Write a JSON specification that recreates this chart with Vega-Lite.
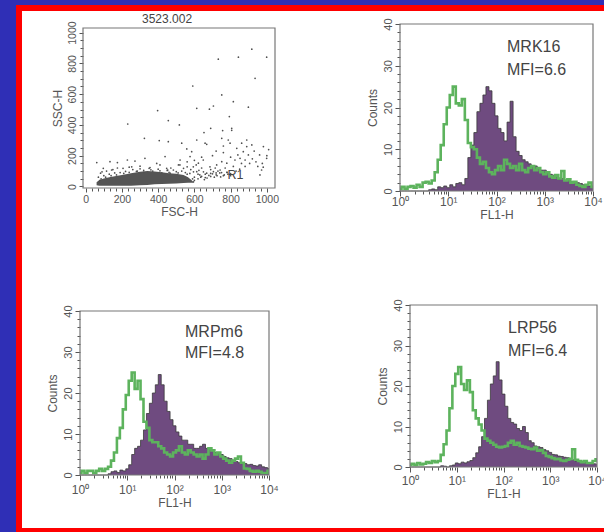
{
  "$schema": "https://vega.github.io/schema/vega-lite/v6.json",
  "width": 600,
  "height": 523,
  "autosize": "none",
  "padding": {"left": 19, "top": 8, "right": 0, "bottom": 1},
  "background": "#2F2FB6",
  "config": {
    "font": "Liberation Sans",
    "view": {"fill": "white", "stroke": "#FF0000", "strokeWidth": 6},
    "axis": {
      "domain": false, "grid": false, "tickColor": "#555", "tickWidth": 1,
      "labelColor": "#555", "labelFont": "Liberation Sans", "labelFontSize": 10.5,
      "titleColor": "#555", "titleFont": "Liberation Sans", "titleFontSize": 12,
      "titleFontWeight": "normal", "labelOverlap": false, "labelFlush": false, "labelBound": false
    }
  },
  "datasets": {
    "blob": [
      {"x": 60, "top": 28, "bottom": 8}, {"x": 75, "top": 42, "bottom": 5}, {"x": 100, "top": 52, "bottom": 5},
      {"x": 130, "top": 60, "bottom": 5}, {"x": 160, "top": 66, "bottom": 5}, {"x": 200, "top": 74, "bottom": 5},
      {"x": 250, "top": 86, "bottom": 5}, {"x": 300, "top": 95, "bottom": 8}, {"x": 340, "top": 100, "bottom": 10},
      {"x": 380, "top": 98, "bottom": 14}, {"x": 420, "top": 92, "bottom": 16}, {"x": 460, "top": 86, "bottom": 18},
      {"x": 500, "top": 82, "bottom": 20}, {"x": 540, "top": 74, "bottom": 22}, {"x": 565, "top": 60, "bottom": 24},
      {"x": 585, "top": 40, "bottom": 24}, {"x": 595, "top": 28, "bottom": 24}
    ],
    "scatter": [
      {"x": 917, "y": 892}, {"x": 999, "y": 840}, {"x": 843, "y": 840}, {"x": 732, "y": 827}, {"x": 591, "y": 653},
      {"x": 935, "y": 703}, {"x": 397, "y": 493}, {"x": 232, "y": 406}, {"x": 324, "y": 313}, {"x": 517, "y": 400},
      {"x": 456, "y": 428}, {"x": 613, "y": 508}, {"x": 683, "y": 502}, {"x": 705, "y": 523}, {"x": 751, "y": 595},
      {"x": 815, "y": 551}, {"x": 898, "y": 515}, {"x": 793, "y": 454}, {"x": 806, "y": 378}, {"x": 806, "y": 365},
      {"x": 756, "y": 363}, {"x": 690, "y": 378}, {"x": 653, "y": 350}, {"x": 613, "y": 302}, {"x": 558, "y": 244},
      {"x": 530, "y": 281}, {"x": 406, "y": 298}, {"x": 889, "y": 302}, {"x": 981, "y": 259},
      {"x": 456, "y": 291}, {"x": 659, "y": 281}, {"x": 668, "y": 274}, {"x": 751, "y": 313}, {"x": 787, "y": 302},
      {"x": 760, "y": 263}, {"x": 797, "y": 281}, {"x": 834, "y": 248}, {"x": 861, "y": 281}, {"x": 889, "y": 259},
      {"x": 917, "y": 270}, {"x": 870, "y": 226}, {"x": 898, "y": 205}, {"x": 852, "y": 183}, {"x": 880, "y": 172},
      {"x": 824, "y": 172}, {"x": 779, "y": 151}, {"x": 751, "y": 161}, {"x": 723, "y": 140}, {"x": 686, "y": 128},
      {"x": 649, "y": 172}, {"x": 622, "y": 151}, {"x": 594, "y": 128}, {"x": 576, "y": 194}, {"x": 585, "y": 226},
      {"x": 521, "y": 172}, {"x": 512, "y": 140}, {"x": 484, "y": 107}, {"x": 466, "y": 86}, {"x": 447, "y": 118},
      {"x": 613, "y": 96}, {"x": 668, "y": 86}, {"x": 705, "y": 96}, {"x": 742, "y": 107}, {"x": 962, "y": 75},
      {"x": 971, "y": 107}, {"x": 999, "y": 183}, {"x": 1010, "y": 240},
      {"x": 61, "y": 155}, {"x": 134, "y": 161}, {"x": 175, "y": 155}, {"x": 230, "y": 172}, {"x": 272, "y": 165},
      {"x": 327, "y": 183}, {"x": 392, "y": 150}, {"x": 438, "y": 194}, {"x": 143, "y": 107}, {"x": 97, "y": 118},
      {"x": 82, "y": 86}, {"x": 206, "y": 118}, {"x": 254, "y": 128}, {"x": 300, "y": 132}, {"x": 355, "y": 123},
      {"x": 410, "y": 140}, {"x": 453, "y": 107},
      {"x": 100, "y": 70}, {"x": 130, "y": 80}, {"x": 160, "y": 88}, {"x": 190, "y": 90}, {"x": 220, "y": 98},
      {"x": 260, "y": 110}, {"x": 300, "y": 115}, {"x": 350, "y": 118}, {"x": 400, "y": 112}, {"x": 450, "y": 104},
      {"x": 500, "y": 96}, {"x": 550, "y": 90}, {"x": 600, "y": 60}, {"x": 620, "y": 80}, {"x": 640, "y": 66},
      {"x": 660, "y": 58}, {"x": 680, "y": 72}, {"x": 700, "y": 82}, {"x": 720, "y": 76}, {"x": 740, "y": 88},
      {"x": 760, "y": 70}, {"x": 780, "y": 92}, {"x": 800, "y": 84}, {"x": 850, "y": 112}, {"x": 880, "y": 130},
      {"x": 905, "y": 150}, {"x": 940, "y": 160}, {"x": 960, "y": 205}, {"x": 980, "y": 125}, {"x": 640, "y": 120},
      {"x": 610, "y": 140}, {"x": 580, "y": 110}, {"x": 560, "y": 128}, {"x": 540, "y": 118}, {"x": 530, "y": 100},
      {"x": 575, "y": 85}, {"x": 595, "y": 95}, {"x": 625, "y": 105}, {"x": 650, "y": 95}, {"x": 690, "y": 110},
      {"x": 715, "y": 120}, {"x": 730, "y": 100}, {"x": 770, "y": 120}, {"x": 815, "y": 130}, {"x": 830, "y": 100},
      {"x": 860, "y": 150}, {"x": 920, "y": 180}, {"x": 950, "y": 130}, {"x": 70, "y": 60}, {"x": 80, "y": 40},
      {"x": 90, "y": 95}, {"x": 115, "y": 100}, {"x": 150, "y": 110}, {"x": 175, "y": 120}, {"x": 240, "y": 125},
      {"x": 285, "y": 100}, {"x": 320, "y": 92}, {"x": 370, "y": 100}, {"x": 420, "y": 88}, {"x": 470, "y": 120},
      {"x": 520, "y": 140}, {"x": 560, "y": 160}, {"x": 600, "y": 170}, {"x": 640, "y": 190}, {"x": 700, "y": 200},
      {"x": 720, "y": 230}, {"x": 760, "y": 220}, {"x": 800, "y": 190}, {"x": 840, "y": 205}, {"x": 930, "y": 230},
      {"x": 975, "y": 150}, {"x": 1000, "y": 200},
      {"x": 600, "y": 40}, {"x": 620, "y": 50}, {"x": 635, "y": 60}, {"x": 655, "y": 45}, {"x": 670, "y": 55},
      {"x": 690, "y": 65}, {"x": 710, "y": 60}, {"x": 725, "y": 70}, {"x": 745, "y": 62}, {"x": 765, "y": 75},
      {"x": 785, "y": 80}, {"x": 800, "y": 70}, {"x": 630, "y": 75}, {"x": 660, "y": 80}, {"x": 690, "y": 85},
      {"x": 720, "y": 88}, {"x": 750, "y": 90}, {"x": 780, "y": 92},
      {"x": 75, "y": 30}, {"x": 85, "y": 50}, {"x": 110, "y": 60}, {"x": 140, "y": 70}, {"x": 170, "y": 75},
      {"x": 210, "y": 85}, {"x": 240, "y": 92}, {"x": 280, "y": 98}, {"x": 320, "y": 105}, {"x": 360, "y": 108},
      {"x": 410, "y": 102}, {"x": 460, "y": 92}, {"x": 510, "y": 88}, {"x": 560, "y": 80}, {"x": 590, "y": 50},
      {"x": 595, "y": 30}
    ],
    "hist": [
      {"x": 1, "g1": 0.5, "p1": 0, "g2": 0.5, "p2": 0, "g3": 0.5, "p3": 0},
      {"x": 1.155, "g1": 1, "p1": 0, "g2": 1, "p2": 0, "g3": 0.8, "p3": 0},
      {"x": 1.334, "g1": 0.5, "p1": 0, "g2": 0.5, "p2": 0, "g3": 0.5, "p3": 0},
      {"x": 1.54, "g1": 1, "p1": 0, "g2": 1, "p2": 0, "g3": 1, "p3": 0},
      {"x": 1.778, "g1": 1.2, "p1": 0, "g2": 1, "p2": 0, "g3": 0.6, "p3": 0},
      {"x": 2.054, "g1": 0.8, "p1": 0, "g2": 0.5, "p2": 0, "g3": 0.8, "p3": 0},
      {"x": 2.371, "g1": 1.5, "p1": 0, "g2": 1, "p2": 0, "g3": 1.2, "p3": 0},
      {"x": 2.738, "g1": 1, "p1": 0, "g2": 1.5, "p2": 0, "g3": 1, "p3": 0},
      {"x": 3.162, "g1": 2, "p1": 0, "g2": 1, "p2": 0, "g3": 1.5, "p3": 0},
      {"x": 3.652, "g1": 2.2, "p1": 0, "g2": 1.5, "p2": 0, "g3": 1.2, "p3": 0},
      {"x": 4.217, "g1": 1.8, "p1": 0.3, "g2": 2, "p2": 0.3, "g3": 1.5, "p3": 0},
      {"x": 4.87, "g1": 2.5, "p1": 0.5, "g2": 3.5, "p2": 0.8, "g3": 3, "p3": 0.3},
      {"x": 5.623, "g1": 4.5, "p1": 0.3, "g2": 5.5, "p2": 1, "g3": 5.6, "p3": 0.2},
      {"x": 6.494, "g1": 7.5, "p1": 1, "g2": 9, "p2": 0.6, "g3": 9, "p3": 0},
      {"x": 7.499, "g1": 11, "p1": 0.8, "g2": 11.5, "p2": 1.2, "g3": 14.5, "p3": 0.3},
      {"x": 8.66, "g1": 16, "p1": 1.2, "g2": 16, "p2": 1, "g3": 20, "p3": 0.5},
      {"x": 10, "g1": 20, "p1": 0.8, "g2": 19.5, "p2": 1.5, "g3": 23, "p3": 1},
      {"x": 11.55, "g1": 23, "p1": 1.5, "g2": 23, "p2": 2.5, "g3": 24.7, "p3": 0.8},
      {"x": 13.34, "g1": 25, "p1": 1, "g2": 25, "p2": 5, "g3": 20.5, "p3": 1.2},
      {"x": 15.4, "g1": 21, "p1": 1.8, "g2": 21, "p2": 6.5, "g3": 19, "p3": 1},
      {"x": 17.78, "g1": 20.5, "p1": 2, "g2": 23, "p2": 7, "g3": 21.4, "p3": 1.3},
      {"x": 20.54, "g1": 22, "p1": 1.5, "g2": 18.5, "p2": 8.5, "g3": 18.5, "p3": 1.6},
      {"x": 23.71, "g1": 17, "p1": 3, "g2": 13, "p2": 11, "g3": 14, "p3": 2.3},
      {"x": 27.38, "g1": 11.5, "p1": 8, "g2": 11.5, "p2": 15, "g3": 12, "p3": 3.5},
      {"x": 31.62, "g1": 10.5, "p1": 11, "g2": 8.5, "p2": 17.5, "g3": 10.5, "p3": 5},
      {"x": 36.52, "g1": 10, "p1": 14, "g2": 8, "p2": 20, "g3": 9, "p3": 7.5},
      {"x": 42.17, "g1": 8, "p1": 19, "g2": 8, "p2": 22, "g3": 7, "p3": 12},
      {"x": 48.7, "g1": 6.5, "p1": 21, "g2": 7, "p2": 24.5, "g3": 6.5, "p3": 16.5},
      {"x": 56.23, "g1": 7, "p1": 23, "g2": 6.5, "p2": 22, "g3": 6, "p3": 20.5},
      {"x": 64.94, "g1": 5.5, "p1": 25, "g2": 5.5, "p2": 18, "g3": 5.5, "p3": 22.5},
      {"x": 74.99, "g1": 4.5, "p1": 24, "g2": 5, "p2": 15.5, "g3": 5, "p3": 26},
      {"x": 86.6, "g1": 4, "p1": 21, "g2": 4.5, "p2": 13.5, "g3": 4.8, "p3": 21.5},
      {"x": 100, "g1": 5, "p1": 18, "g2": 5.5, "p2": 12, "g3": 5, "p3": 18},
      {"x": 115.5, "g1": 6, "p1": 15, "g2": 6, "p2": 10.5, "g3": 5.2, "p3": 15},
      {"x": 133.4, "g1": 5, "p1": 14, "g2": 7, "p2": 9.5, "g3": 6, "p3": 12},
      {"x": 154, "g1": 7.5, "p1": 12, "g2": 5.5, "p2": 8.5, "g3": 6.5, "p3": 11},
      {"x": 177.8, "g1": 6.5, "p1": 16.5, "g2": 5, "p2": 8.5, "g3": 5.5, "p3": 10.6},
      {"x": 205.4, "g1": 5.5, "p1": 21.5, "g2": 6, "p2": 7.5, "g3": 6, "p3": 9.5},
      {"x": 237.1, "g1": 6, "p1": 13, "g2": 5.5, "p2": 7.5, "g3": 5.2, "p3": 9},
      {"x": 273.8, "g1": 5, "p1": 9.5, "g2": 5, "p2": 6.5, "g3": 5, "p3": 10},
      {"x": 316.2, "g1": 6.5, "p1": 8.5, "g2": 4.5, "p2": 6.5, "g3": 4.8, "p3": 8.5},
      {"x": 365.2, "g1": 5, "p1": 7.5, "g2": 5, "p2": 7, "g3": 4.5, "p3": 6.5},
      {"x": 421.7, "g1": 4.5, "p1": 7, "g2": 4, "p2": 7.5, "g3": 4.4, "p3": 6},
      {"x": 487, "g1": 5.5, "p1": 6.5, "g2": 5, "p2": 6.5, "g3": 4.8, "p3": 5.2},
      {"x": 562.3, "g1": 6, "p1": 6, "g2": 6.5, "p2": 6.5, "g3": 4, "p3": 5},
      {"x": 649.4, "g1": 5, "p1": 6, "g2": 6, "p2": 6, "g3": 4.2, "p3": 4.8},
      {"x": 749.9, "g1": 5.5, "p1": 5.5, "g2": 5, "p2": 5.5, "g3": 3.5, "p3": 4.3},
      {"x": 866, "g1": 4.5, "p1": 5, "g2": 5.5, "p2": 5.5, "g3": 2.7, "p3": 4},
      {"x": 1000, "g1": 4, "p1": 5, "g2": 4.5, "p2": 5, "g3": 2.5, "p3": 3.6},
      {"x": 1155, "g1": 4.5, "p1": 4.5, "g2": 4, "p2": 4.5, "g3": 2.2, "p3": 3.1},
      {"x": 1334, "g1": 3.5, "p1": 4, "g2": 3.5, "p2": 4.2, "g3": 1.9, "p3": 3},
      {"x": 1540, "g1": 3.2, "p1": 3.8, "g2": 3, "p2": 4, "g3": 2, "p3": 2.7},
      {"x": 1778, "g1": 3.8, "p1": 3.4, "g2": 3.5, "p2": 3.6, "g3": 1.6, "p3": 2.6},
      {"x": 2054, "g1": 3, "p1": 3, "g2": 4, "p2": 3.3, "g3": 1.5, "p3": 2.4},
      {"x": 2371, "g1": 4.8, "p1": 3, "g2": 4.5, "p2": 3, "g3": 1.8, "p3": 2.3},
      {"x": 2738, "g1": 2.5, "p1": 2.5, "g2": 3, "p2": 2.9, "g3": 2, "p3": 2},
      {"x": 3162, "g1": 2.8, "p1": 2.5, "g2": 1.6, "p2": 2.8, "g3": 4.4, "p3": 1.8},
      {"x": 3652, "g1": 2, "p1": 2.2, "g2": 1.5, "p2": 2.5, "g3": 1.8, "p3": 1.5},
      {"x": 4217, "g1": 2.2, "p1": 2, "g2": 1, "p2": 2.6, "g3": 1.5, "p3": 1.4},
      {"x": 4870, "g1": 1.5, "p1": 2, "g2": 0.8, "p2": 2.3, "g3": 1.2, "p3": 1.2},
      {"x": 5623, "g1": 1.2, "p1": 1.8, "g2": 1, "p2": 2.2, "g3": 1.5, "p3": 1.1},
      {"x": 6494, "g1": 1, "p1": 1.5, "g2": 0.8, "p2": 2.5, "g3": 1, "p3": 1},
      {"x": 7499, "g1": 1.5, "p1": 1.4, "g2": 0.5, "p2": 2, "g3": 1, "p3": 0.9},
      {"x": 8660, "g1": 2, "p1": 1.2, "g2": 0.5, "p2": 1.8, "g3": 1.5, "p3": 0.8},
      {"x": 10000, "g1": 1, "p1": 1, "g2": 1, "p2": 1.6, "g3": 1.9, "p3": 0.7}
    ]
  },
  "resolve": {"scale": {"x": "independent", "y": "independent"}, "axis": {"x": "independent", "y": "independent"}},
  "layer": [
    {
      "resolve": {"axis": {"x": "independent", "y": "independent"}},
      "layer": [
        {
          "layer": [
            {
              "data": {"name": "blob"},
              "mark": {"type": "area", "color": "#555555"},
              "encoding": {
                "x": {"field": "x", "type": "quantitative",
                  "scale": {"domain": [-15, 1045], "range": [64, 256], "nice": false, "zero": false},
                  "axis": {"orient": "bottom", "offset": -343, "title": "FSC-H", "titlePadding": 2, "labelPadding": 2, "tickSize": 4,
                    "values": [0, 200, 400, 600, 800, 1000], "format": "d"}},
                "y": {"field": "top", "type": "quantitative",
                  "scale": {"domain": [-10, 1030], "range": [180, 20], "nice": false, "zero": false},
                  "axis": {"orient": "left", "offset": -64, "title": "SSC-H", "titlePadding": 3, "labelAngle": 270, "labelPadding": 2, "tickSize": 4,
                    "values": [0, 200, 400, 600, 800, 1000], "format": "d"}},
                "y2": {"field": "bottom"}
              }
            },
            {
              "data": {"name": "scatter"},
              "mark": {"type": "circle", "size": 3, "color": "#505050", "opacity": 1},
              "encoding": {
                "x": {"field": "x", "type": "quantitative"},
                "y": {"field": "y", "type": "quantitative"}
              }
            },
            {
              "data": {"values": [{}]},
              "mark": {"type": "text", "text": "3523.002", "fontSize": 12, "color": "#444", "align": "center", "baseline": "middle"},
              "encoding": {"x": {"datum": 449}, "y": {"datum": 1088}}
            },
            {
              "data": {"values": [{}]},
              "mark": {"type": "text", "text": "R1", "fontSize": 12.5, "color": "#444", "align": "center", "baseline": "middle"},
              "encoding": {"x": {"datum": 827}, "y": {"datum": 75}}
            }
          ]
        },
        {
          "data": {"values": [{}]},
          "mark": {"type": "rect", "fill": null, "stroke": "#777", "strokeWidth": 1.2},
          "encoding": {
            "x": {"datum": -15, "type": "quantitative",
              "axis": {"orient": "bottom", "offset": -343, "labels": false, "title": null, "tickSize": 3,
                "values": [33.3,66.7,100,133.3,166.7,233.3,266.7,300,333.3,366.7,433.3,466.7,500,533.3,566.7,633.3,666.7,700,733.3,766.7,833.3,866.7,900,933.3,966.7]}},
            "x2": {"datum": 1045},
            "y": {"datum": -10, "type": "quantitative",
              "axis": {"orient": "left", "offset": -64, "labels": false, "title": null, "tickSize": 3,
                "values": [50,100,150,250,300,350,450,500,550,650,700,750,850,900,950]}},
            "y2": {"datum": 1030}
          }
        }
      ]
    },
    {
      "resolve": {"axis": {"x": "independent", "y": "independent"}},
      "layer": [
        {
          "data": {"name": "hist"},
          "layer": [
            {
              "mark": {"type": "area", "interpolate": "step", "color": "#6F4B80"},
              "encoding": {
                "x": {"field": "x", "type": "quantitative",
                  "scale": {"type": "log", "domain": [1, 10000], "range": [381, 574], "nice": false},
                  "axis": {"orient": "bottom", "offset": -340, "title": "FL1-H", "titlePadding": 2, "labelFontSize": 12, "labelPadding": 0, "tickSize": 5,
                    "values": [1, 10, 100, 1000, 10000],
                    "labelExpr": "datum.value == 1 ? '10⁰' : datum.value == 10 ? '10¹' : datum.value == 100 ? '10²' : datum.value == 1000 ? '10³' : '10⁴'"}},
                "y": {"field": "p1", "type": "quantitative",
                  "scale": {"domain": [0, 40], "range": [183, 16], "nice": false},
                  "axis": {"orient": "left", "offset": -381, "title": "Counts", "titlePadding": 3, "labelAngle": 270, "labelPadding": 2, "labelFontSize": 11, "tickSize": 5,
                    "values": [0, 10, 20, 30, 40]}}
              }
            },
            {
              "mark": {"type": "line", "interpolate": "step", "color": "#3a3a3a", "strokeWidth": 0.8},
              "encoding": {"x": {"field": "x", "type": "quantitative"}, "y": {"field": "p1", "type": "quantitative"}}
            },
            {
              "mark": {"type": "line", "interpolate": "step", "color": "#5DB35D", "strokeWidth": 2.6},
              "encoding": {"x": {"field": "x", "type": "quantitative"}, "y": {"field": "g1", "type": "quantitative"}}
            },
            {
              "data": {"values": [{}]},
              "mark": {"type": "text", "text": "MRK16", "fontSize": 16, "color": "#444", "align": "left", "baseline": "middle"},
              "encoding": {"x": {"datum": 165}, "y": {"datum": 34.5}}
            },
            {
              "data": {"values": [{}]},
              "mark": {"type": "text", "text": "MFI=6.6", "fontSize": 16, "color": "#444", "align": "left", "baseline": "middle"},
              "encoding": {"x": {"datum": 165}, "y": {"datum": 29}}
            }
          ]
        },
        {
          "data": {"values": [{}]},
          "mark": {"type": "rect", "fill": null, "stroke": "#777", "strokeWidth": 1.2},
          "encoding": {
            "x": {"datum": 1, "type": "quantitative",
              "axis": {"orient": "bottom", "offset": -340, "labels": false, "title": null, "tickSize": 3,
                "values": [2,3,4,5,6,7,8,9,20,30,40,50,60,70,80,90,200,300,400,500,600,700,800,900,2000,3000,4000,5000,6000,7000,8000,9000]}},
            "x2": {"datum": 10000},
            "y": {"datum": 0, "type": "quantitative",
              "axis": {"orient": "left", "offset": -381, "labels": false, "title": null, "tickSize": 3,
                "values": [2,4,6,8,12,14,16,18,22,24,26,28,32,34,36,38]}},
            "y2": {"datum": 40}
          }
        }
      ]
    },
    {
      "resolve": {"axis": {"x": "independent", "y": "independent"}},
      "layer": [
        {
          "data": {"name": "hist"},
          "layer": [
            {
              "mark": {"type": "area", "interpolate": "step", "color": "#6F4B80"},
              "encoding": {
                "x": {"field": "x", "type": "quantitative",
                  "scale": {"type": "log", "domain": [1, 10000], "range": [61, 250], "nice": false},
                  "axis": {"orient": "bottom", "offset": -56, "title": "FL1-H", "titlePadding": 2, "labelFontSize": 12, "labelPadding": 4, "tickSize": 5,
                    "values": [1, 10, 100, 1000, 10000],
                    "labelExpr": "datum.value == 1 ? '10⁰' : datum.value == 10 ? '10¹' : datum.value == 100 ? '10²' : datum.value == 1000 ? '10³' : '10⁴'"}},
                "y": {"field": "p2", "type": "quantitative",
                  "scale": {"domain": [0, 40], "range": [467, 303], "nice": false},
                  "axis": {"orient": "left", "offset": -61, "title": "Counts", "titlePadding": 3, "labelAngle": 270, "labelPadding": 2, "labelFontSize": 11, "tickSize": 5,
                    "values": [0, 10, 20, 30, 40]}}
              }
            },
            {
              "mark": {"type": "line", "interpolate": "step", "color": "#3a3a3a", "strokeWidth": 0.8},
              "encoding": {"x": {"field": "x", "type": "quantitative"}, "y": {"field": "p2", "type": "quantitative"}}
            },
            {
              "mark": {"type": "line", "interpolate": "step", "color": "#5DB35D", "strokeWidth": 2.6},
              "encoding": {"x": {"field": "x", "type": "quantitative"}, "y": {"field": "g2", "type": "quantitative"}}
            },
            {
              "data": {"values": [{}]},
              "mark": {"type": "text", "text": "MRPm6", "fontSize": 16, "color": "#444", "align": "left", "baseline": "middle"},
              "encoding": {"x": {"datum": 167}, "y": {"datum": 34.9}}
            },
            {
              "data": {"values": [{}]},
              "mark": {"type": "text", "text": "MFI=4.8", "fontSize": 16, "color": "#444", "align": "left", "baseline": "middle"},
              "encoding": {"x": {"datum": 167}, "y": {"datum": 29.8}}
            }
          ]
        },
        {
          "data": {"values": [{}]},
          "mark": {"type": "rect", "fill": null, "stroke": "#777", "strokeWidth": 1.2},
          "encoding": {
            "x": {"datum": 1, "type": "quantitative",
              "axis": {"orient": "bottom", "offset": -56, "labels": false, "title": null, "tickSize": 3,
                "values": [2,3,4,5,6,7,8,9,20,30,40,50,60,70,80,90,200,300,400,500,600,700,800,900,2000,3000,4000,5000,6000,7000,8000,9000]}},
            "x2": {"datum": 10000},
            "y": {"datum": 0, "type": "quantitative",
              "axis": {"orient": "left", "offset": -61, "labels": false, "title": null, "tickSize": 3,
                "values": [2,4,6,8,12,14,16,18,22,24,26,28,32,34,36,38]}},
            "y2": {"datum": 40}
          }
        }
      ]
    },
    {
      "resolve": {"axis": {"x": "independent", "y": "independent"}},
      "layer": [
        {
          "data": {"name": "hist"},
          "layer": [
            {
              "mark": {"type": "area", "interpolate": "step", "color": "#6F4B80"},
              "encoding": {
                "x": {"field": "x", "type": "quantitative",
                  "scale": {"type": "log", "domain": [1, 10000], "range": [391, 578], "nice": false},
                  "axis": {"orient": "bottom", "offset": -64, "title": "FL1-H", "titlePadding": 2, "labelFontSize": 12, "labelPadding": 3, "tickSize": 5,
                    "values": [1, 10, 100, 1000, 10000],
                    "labelExpr": "datum.value == 1 ? '10⁰' : datum.value == 10 ? '10¹' : datum.value == 100 ? '10²' : datum.value == 1000 ? '10³' : '10⁴'"}},
                "y": {"field": "p3", "type": "quantitative",
                  "scale": {"domain": [0, 40], "range": [459, 297], "nice": false},
                  "axis": {"orient": "left", "offset": -391, "title": "Counts", "titlePadding": 3, "labelAngle": 270, "labelPadding": 2, "labelFontSize": 11, "tickSize": 5,
                    "values": [0, 10, 20, 30, 40]}}
              }
            },
            {
              "mark": {"type": "line", "interpolate": "step", "color": "#3a3a3a", "strokeWidth": 0.8},
              "encoding": {"x": {"field": "x", "type": "quantitative"}, "y": {"field": "p3", "type": "quantitative"}}
            },
            {
              "mark": {"type": "line", "interpolate": "step", "color": "#5DB35D", "strokeWidth": 2.6},
              "encoding": {"x": {"field": "x", "type": "quantitative"}, "y": {"field": "g3", "type": "quantitative"}}
            },
            {
              "data": {"values": [{}]},
              "mark": {"type": "text", "text": "LRP56", "fontSize": 16, "color": "#444", "align": "left", "baseline": "middle"},
              "encoding": {"x": {"datum": 125}, "y": {"datum": 34.3}}
            },
            {
              "data": {"values": [{}]},
              "mark": {"type": "text", "text": "MFI=6.4", "fontSize": 16, "color": "#444", "align": "left", "baseline": "middle"},
              "encoding": {"x": {"datum": 125}, "y": {"datum": 28.6}}
            }
          ]
        },
        {
          "data": {"values": [{}]},
          "mark": {"type": "rect", "fill": null, "stroke": "#777", "strokeWidth": 1.2},
          "encoding": {
            "x": {"datum": 1, "type": "quantitative",
              "axis": {"orient": "bottom", "offset": -64, "labels": false, "title": null, "tickSize": 3,
                "values": [2,3,4,5,6,7,8,9,20,30,40,50,60,70,80,90,200,300,400,500,600,700,800,900,2000,3000,4000,5000,6000,7000,8000,9000]}},
            "x2": {"datum": 10000},
            "y": {"datum": 0, "type": "quantitative",
              "axis": {"orient": "left", "offset": -391, "labels": false, "title": null, "tickSize": 3,
                "values": [2,4,6,8,12,14,16,18,22,24,26,28,32,34,36,38]}},
            "y2": {"datum": 40}
          }
        }
      ]
    }
  ]
}
